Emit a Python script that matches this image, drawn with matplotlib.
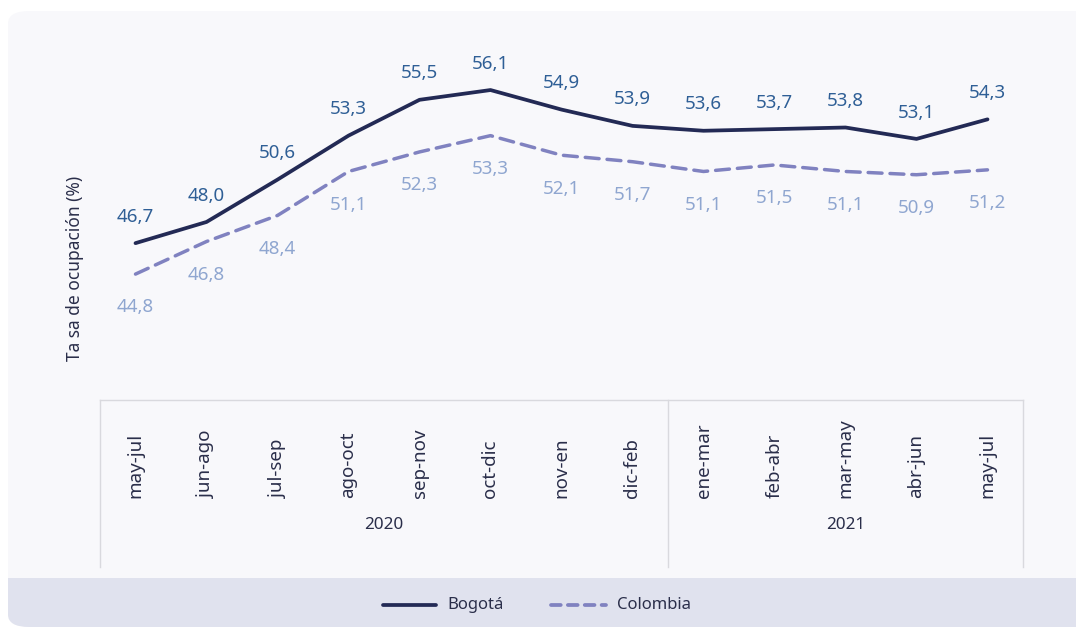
import matplotlib
matplotlib.use("Agg")
import matplotlib.pyplot as plt
from matplotlib.patches import FancyBboxPatch, Rectangle
from matplotlib.lines import Line2D

# data
periods = ["may-jul", "jun-ago", "jul-sep", "ago-oct", "sep-nov", "oct-dic", "nov-en",
           "dic-feb", "ene-mar", "feb-abr", "mar-may", "abr-jun", "may-jul"]
years = ["2020", "2021"]
year_sizes = [8, 5]
bogota = [46.7, 48.0, 50.6, 53.3, 55.5, 56.1, 54.9, 53.9, 53.6, 53.7, 53.8, 53.1, 54.3]
colombia = [44.8, 46.8, 48.4, 51.1, 52.3, 53.3, 52.1, 51.7, 51.1, 51.5, 51.1, 50.9, 51.2]

W, H = 1076, 627
PANEL = "#f8f8fb"
BAND = "#e0e2ee"
GRID = "#d9d9de"
NAVY = "#232a55"
PURPLE = "#8082c0"
LAB_B = "#2f5f96"
LAB_C = "#8fa6d0"
TXT = "#2a2e4a"

plt.rcParams["font.family"] = ["Noto Sans", "DejaVu Sans"]

fig = plt.figure(figsize=(W / 100, H / 100), dpi=100, facecolor="white")


def fx(px):
    return px / W


def fy(py):
    return 1 - py / H


# background panel + legend band (rounded corners, right side runs off the edge)
panel = FancyBboxPatch((fx(8), fy(627)), fx(1110) - fx(8), fy(11) - fy(627),
                       boxstyle="round,pad=0,rounding_size=0.02",
                       transform=fig.transFigure, facecolor=PANEL,
                       edgecolor="none", zorder=-3)
fig.patches.append(panel)
band = Rectangle((0, 0), 1, fy(578), transform=fig.transFigure,
                 facecolor=BAND, edgecolor="none", zorder=-2)
band.set_clip_path(panel)
fig.patches.append(band)

# main axes
x0, x1, ytop, ybot = 100, 1023, 20, 400
ax = fig.add_axes([fx(x0), fy(ybot), fx(x1) - fx(x0), fy(ytop) - fy(ybot)])
ax.set_facecolor("none")
ax.set_xlim(-0.5, len(periods) - 0.5)
ax.set_ylim(37.07, 60.4)
ax.axis("off")

xs = list(range(len(periods)))
ax.plot(xs, bogota, color=NAVY, lw=2.7, solid_capstyle="round", zorder=3)
ax.plot(xs, colombia, color=PURPLE, lw=2.5, dashes=(4.0, 2.3),
        dash_capstyle="round", zorder=3)

for x, v in zip(xs, bogota):
    ax.annotate(f"{v:.1f}".replace(".", ","), (x, v), xytext=(0, 19),
                textcoords="offset points", ha="center", va="center",
                fontsize=13.5, color=LAB_B)
for x, v in zip(xs, colombia):
    ax.annotate(f"{v:.1f}".replace(".", ","), (x, v), xytext=(0, -24),
                textcoords="offset points", ha="center", va="center",
                fontsize=13.5, color=LAB_C)

fig.text(fx(75), fy(268), "Ta sa de ocupación (%)", rotation=90,
         ha="center", va="center", fontsize=12.5, color=TXT)

# category table below the plot
tb_top, tb_bot = 400, 567
step = (x1 - x0) / len(periods)
lines = [((x0, x1), (tb_top, tb_top)), ((x0, x0), (tb_top, tb_bot)),
         ((x1, x1), (tb_top, tb_bot))]
start = 0
for yr, n in zip(years, year_sizes):
    if start > 0:
        xsep = x0 + start * step
        lines.append(((xsep, xsep), (tb_top, tb_bot)))
    xc = x0 + (start + n / 2) * step
    fig.text(fx(xc), fy(525), yr, ha="center", va="center", fontsize=12.3, color=TXT)
    start += n
for (lx, ly) in lines:
    fig.add_artist(Line2D([fx(lx[0]), fx(lx[1])], [fy(ly[0]), fy(ly[1])],
                          color=GRID, lw=1, transform=fig.transFigure))

for i, name in enumerate(periods):
    fig.text(fx(x0 + (i + 0.5) * step), fy(498), name, rotation=90,
             ha="center", va="bottom", fontsize=13.5, color=TXT)

# legend in the bottom band
ly = fy(605)
fig.add_artist(Line2D([fx(383), fx(436)], [ly, ly], color=NAVY, lw=2.7,
                      solid_capstyle="round", transform=fig.transFigure))
fig.text(fx(447), ly, "Bogotá", ha="left", va="center", fontsize=12, color=TXT)
fig.add_artist(Line2D([fx(551), fx(606)], [ly, ly], color=PURPLE, lw=2.7,
                      dashes=(2.6, 1.9), dash_capstyle="round",
                      transform=fig.transFigure))
fig.text(fx(617), ly, "Colombia", ha="left", va="center", fontsize=12, color=TXT)

fig.savefig("out.png", dpi=100, facecolor="white")
